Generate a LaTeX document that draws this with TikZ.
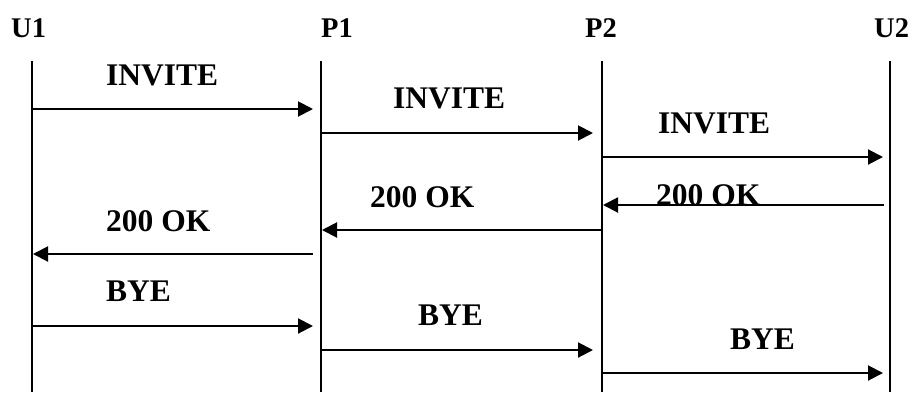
\documentclass[tikz,border=0pt]{standalone}
\usepackage{fontspec}
\setmainfont{Liberation Serif}
\usetikzlibrary{arrows.meta}
\tikzset{
  lifeline/.style={line width=2pt},
  msg/.style={line width=2pt,-{Triangle[length=15pt,width=15pt]}},
  lbl/.style={font=\fontsize{31.5}{31.5}\selectfont\bfseries,inner sep=0pt,anchor=base west},
  head/.style={font=\fontsize{28.5}{28.5}\selectfont\bfseries,inner sep=0pt,anchor=base west}
}
\begin{document}
\begin{tikzpicture}[x=1pt,y=-1pt]
\useasboundingbox (0,0) rectangle (915,392);
% headers
\node[head] (hU1) at (11,37) {U1};
\node[head] (hP1) at (321,37) {P1};
\node[head] (hP2) at (585,37) {P2};
\node[head] (hU2) at (874,37) {U2};
% lifelines
\coordinate (U1t) at (32,61);  \coordinate (U1b) at (32,392);
\coordinate (P1t) at (321,61); \coordinate (P1b) at (321,392);
\coordinate (P2t) at (602,61); \coordinate (P2b) at (602,392);
\coordinate (U2t) at (890,61); \coordinate (U2b) at (890,392);
\draw[lifeline] (U1t) -- (U1b);
\draw[lifeline] (P1t) -- (P1b);
\draw[lifeline] (P2t) -- (P2b);
\draw[lifeline] (U2t) -- (U2b);
% message endpoints
\coordinate (a1) at (32,109);  \coordinate (b1) at (313,109);
\coordinate (a2) at (321,133); \coordinate (b2) at (593,133);
\coordinate (a3) at (602,157); \coordinate (b3) at (883,157);
\coordinate (a4) at (884,205); \coordinate (b4) at (603,205);
\coordinate (a5) at (602,230); \coordinate (b5) at (322,230);
\coordinate (a6) at (313,254); \coordinate (b6) at (33,254);
\coordinate (a7) at (32,326);  \coordinate (b7) at (313,326);
\coordinate (a8) at (321,350); \coordinate (b8) at (593,350);
\coordinate (a9) at (602,373); \coordinate (b9) at (883,373);
% labels
\node[lbl] (t1) at (106,85) {INVITE};
\node[lbl] (t2) at (393,108) {INVITE};
\node[lbl] (t3) at (658,133) {INVITE};
\node[lbl] (t4) at (656,205) {200 OK};
\node[lbl] (t5) at (370,207) {200 OK};
\node[lbl] (t6) at (106,231) {200 OK};
\node[lbl] (t7) at (106,301) {BYE};
\node[lbl] (t8) at (418,325) {BYE};
\node[lbl] (t9) at (730,349) {BYE};
% messages
\draw[msg] (a1) -- (b1);
\draw[msg] (a2) -- (b2);
\draw[msg] (a3) -- (b3);
\draw[msg] (a4) -- (b4);
\draw[msg] (a5) -- (b5);
\draw[msg] (a6) -- (b6);
\draw[msg] (a7) -- (b7);
\draw[msg] (a8) -- (b8);
\draw[msg] (a9) -- (b9);
\end{tikzpicture}
\end{document}
